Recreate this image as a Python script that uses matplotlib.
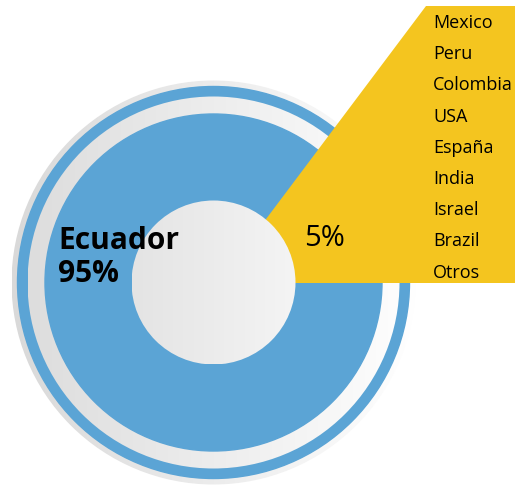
import numpy as np
import matplotlib
matplotlib.use("Agg")
import matplotlib.pyplot as plt
from matplotlib.patches import Circle, Polygon
from matplotlib.colors import LinearSegmentedColormap

# Datos del gráfico
paises_resto = ['Mexico', 'Peru', 'Colombia', 'USA', 'España', 'India', 'Israel', 'Brazil', 'Otros']
porcentajes = [95, 5]
etiqueta_principal = 'Ecuador'

azul = '#5ba4d5'
amarillo = '#f4c51f'

# Figura en pixeles (515x486)
fig = plt.figure(figsize=(5.15, 4.86), dpi=100)
ax = fig.add_axes([0, 0, 1, 1])
ax.set_xlim(0, 515)
ax.set_ylim(486, 0)
ax.axis('off')

cx, cy = 213.5, 282.5


def circulo_degradado(r, c0, c1, z):
    # circulo con degradado horizontal de c0 (izq) a c1 (der)
    circ = Circle((cx, cy), r, facecolor='none', edgecolor='none', zorder=z)
    ax.add_patch(circ)
    grad = np.linspace(0, 1, 256).reshape(1, -1)
    cmap = LinearSegmentedColormap.from_list('g', [c0, c1])
    im = ax.imshow(grad, extent=[cx - r, cx + r, cy + r, cy - r], cmap=cmap,
                   aspect='auto', interpolation='bicubic', zorder=z)
    im.set_clip_path(circ)


# Anillos exteriores
circulo_degradado(202, '#d9d9d9', '#ffffff', 1)
ax.add_patch(Circle((cx, cy), 196, color=azul, zorder=2))
circulo_degradado(186, '#dddddd', '#fdfdfd', 3)
ax.add_patch(Circle((cx, cy), 168.5, color=azul, zorder=4))

# Sector amarillo (resto de paises)
ax.add_patch(Polygon([(218, 283), (516, 283), (516, 6), (426, 6)], closed=True,
                     facecolor=amarillo, edgecolor='none', zorder=5))

# Circulo central
circulo_degradado(82, '#e4e4e4', '#f4f4f4', 6)

ax.set_xlim(0, 515)
ax.set_ylim(486, 0)

# Textos
ax.text(58, 249, etiqueta_principal, fontsize=21.5, fontweight='bold', family='Open Sans',
        va='baseline', ha='left', zorder=7)
ax.text(58, 282, f'{porcentajes[0]}%', fontsize=21.5, fontweight='bold', family='Open Sans',
        va='baseline', ha='left', zorder=7)
ax.text(304, 246, f'{porcentajes[1]}%', fontsize=21, family='Open Sans',
        va='baseline', ha='left', zorder=7)

for i, p in enumerate(paises_resto):
    ax.text(433, 28 + i * 31.2, p, fontsize=13, family='Open Sans',
            va='baseline', ha='left', zorder=7)

plt.savefig('out.png', dpi=100)
